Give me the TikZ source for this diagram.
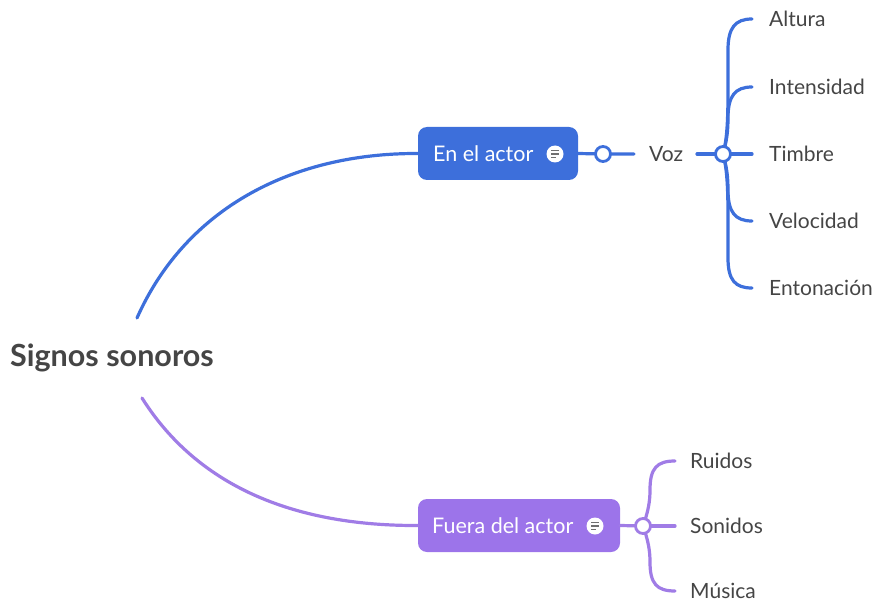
\documentclass[tikz,border=0pt]{standalone}
\usepackage{fontspec}
\setmainfont{Lato}
\definecolor{blu}{HTML}{3D6FDB}
\definecolor{pur}{HTML}{A07CE6}
\definecolor{purbox}{HTML}{9C74EA}
\definecolor{txt}{HTML}{454545}
\definecolor{icongray}{HTML}{707070}
\begin{document}
\begin{tikzpicture}[x=1pt,y=-1pt,
  leaf/.style={anchor=west, text=txt, font=\fontsize{21}{24}\selectfont, inner sep=0pt},
  boxtext/.style={anchor=west, text=white, font=\fontsize{21.5}{24}\selectfont, inner sep=0pt},
  mainbox/.style={rounded corners=9pt, minimum height=53pt, inner sep=0pt},
  hub/.style={circle, draw, fill=white, line width=2.8pt, minimum size=15pt, inner sep=0pt},
  iconc/.style={circle, fill=white, minimum size=17pt, inner sep=0pt},
  conn/.style={line width=3.2pt, line cap=round},
  iconline/.style={line width=1.2pt, icongray}]
\useasboundingbox (0,0) rectangle (875,604);

% root
\node[anchor=west, text=txt, font=\bfseries\fontsize{30.5}{33}\selectfont, inner sep=0pt] (root) at (10,358) {Signos sonoros};
\coordinate (rb) at (137,318);
\coordinate (rp) at (142,398);

% blue box
\node[mainbox, fill=blu, minimum width=160pt] (actor) at (498,153.5) {};
\node[boxtext] (actortxt) at (433,154) {En el actor};
\node[iconc] (icon1) at (555,154) {};
\draw[iconline] (551,150.5) -- (559,150.5) (551,154) -- (559,154) (551,157.5) -- (556,157.5);

% purple box
\node[mainbox, fill=purbox, minimum width=202pt] (fuera) at (519,525.5) {};
\node[boxtext] (fueratxt) at (432,526) {Fuera del actor};
\node[iconc] (icon2) at (595,526) {};
\draw[iconline] (591,522.5) -- (599,522.5) (591,526) -- (599,526) (591,529.5) -- (596,529.5);

% main curves
\draw[conn, blu] (rb) .. controls (185,210) and (290,153) .. (actor.west);
\draw[conn, pur] (rp) .. controls (200,490) and (300,526) .. (fuera.west);

% blue first hub and Voz
\coordinate (h1) at (603,154);
\node[leaf] (voz) at (649,154) {Voz};
\coordinate (vozr) at (697,154);
\coordinate (h2) at (723,154);
\draw[conn, blu] (actor.east) -- (h1) -- (634,154);
\draw[conn, blu] (vozr) -- (h2);

% blue leaves
\coordinate (e1) at (752,19);
\coordinate (e2) at (752,87);
\coordinate (e3) at (752,154);
\coordinate (e4) at (752,221);
\coordinate (e5) at (752,288);
\draw[conn, blu] (h2) .. controls (727,140) and (728,120) .. (728,90) -- (728,50) .. controls (728,28) and (735,19) .. (e1);
\draw[conn, blu] (h2) .. controls (727,140) and (728,130) .. (728,118) .. controls (728,96) and (735,87) .. (e2);
\draw[conn, blu] (h2) -- (e3);
\draw[conn, blu] (h2) .. controls (727,168) and (728,178) .. (728,190) .. controls (728,212) and (735,221) .. (e4);
\draw[conn, blu] (h2) .. controls (727,168) and (728,188) .. (728,218) -- (728,258) .. controls (728,280) and (735,288) .. (e5);
\node[hub, draw=blu] (hub1) at (h1) {};
\node[hub, draw=blu] (hub2) at (h2) {};
\node[leaf] (altura) at (769,19) {Altura};
\node[leaf] (intens) at (769,87) {Intensidad};
\node[leaf] (timbre) at (769,154) {Timbre};
\node[leaf] (veloc) at (769,221) {Velocidad};
\node[leaf] (enton) at (769,288) {Entonación};

% purple leaves
\coordinate (h3) at (643,526);
\coordinate (p1) at (675,461);
\coordinate (p2) at (675,526);
\coordinate (p3) at (675,591);
\draw[conn, pur] (fuera.east) -- (h3);
\draw[conn, pur] (h3) .. controls (648,512) and (650,502) .. (650,490) .. controls (650,468) and (657,461) .. (p1);
\draw[conn, pur] (h3) -- (p2);
\draw[conn, pur] (h3) .. controls (648,540) and (650,550) .. (650,562) .. controls (650,584) and (657,591) .. (p3);
\node[hub, draw=pur] (hub3) at (h3) {};
\node[leaf] (ruidos) at (690,461) {Ruidos};
\node[leaf] (sonidos) at (690,526) {Sonidos};
\node[leaf] (musica) at (690,591) {Música};
\end{tikzpicture}
\end{document}
